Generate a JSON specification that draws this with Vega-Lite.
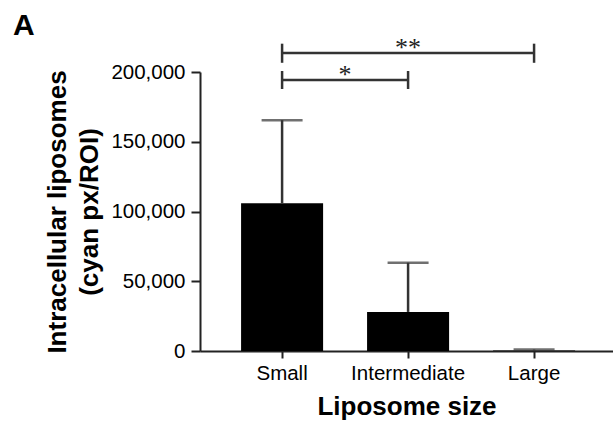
{
  "$schema": "https://vega.github.io/schema/vega-lite/v6.json",
  "width": 413,
  "height": 279,
  "autosize": {"type": "none"},
  "padding": {"left": 200, "top": 72, "right": 0, "bottom": 71},
  "background": "white",
  "config": {
    "view": {"stroke": null},
    "font": "Liberation Sans",
    "axisY": {"grid": false, "labelFontSize": 20.5, "labelColor": "black", "labelPadding": 6, "tickSize": 9, "tickWidth": 2, "tickColor": "#222", "domainWidth": 2, "domainColor": "#222", "titleFontSize": 26, "titleFontWeight": "bold", "titleColor": "black", "titleLineHeight": 32, "titlePadding": 8},
    "axisX": {"labelAngle": 0, "labelFontSize": 20.5, "labelColor": "black", "labelPadding": 5, "tickSize": 7, "tickWidth": 2, "tickColor": "#222", "domainWidth": 2, "domainColor": "#222", "titleFontSize": 26, "titleFontWeight": "bold", "titleColor": "black", "titlePadding": 10}
  },
  "title": {"text": "A", "anchor": "start", "frame": "group", "fontSize": 30, "fontWeight": "bold", "font": "Liberation Sans", "color": "black", "dx": -187, "baseline": "alphabetic", "offset": -30},
  "datasets": {
    "bars": [
      {"size": "Small", "mean": 106000, "upper": 165500},
      {"size": "Intermediate", "mean": 28000, "upper": 63300},
      {"size": "Large", "mean": 300, "upper": 1000}
    ],
    "brackets": [
      {"from": "Small", "to": "Intermediate", "level": 194300, "lo": 187800, "hi": 200700, "label": "*"},
      {"from": "Small", "to": "Large", "level": 213600, "lo": 206600, "hi": 220300, "label": "**"}
    ]
  },
  "layer": [
    {
      "data": {"name": "bars"},
      "mark": {"type": "bar", "color": "black"},
      "encoding": {
        "x": {"field": "size", "type": "nominal", "title": "Liposome size",
          "scale": {"domain": ["Small", "Intermediate", "Large"], "paddingInner": 0.349, "paddingOuter": 0.3135, "align": 0.52},
          "sort": null},
        "y": {"field": "mean", "type": "quantitative", "title": ["Intracellular liposomes", "(cyan px/ROI)"],
          "scale": {"domain": [0, 200000], "nice": false},
          "axis": {"tickCount": 4, "format": ",d"}}
      }
    },
    {
      "data": {"name": "bars"},
      "mark": {"type": "rule", "color": "#333", "strokeWidth": 2.5},
      "encoding": {
        "x": {"field": "size", "type": "nominal", "title": "Liposome size", "sort": null},
        "y": {"field": "mean", "type": "quantitative", "title": ["Intracellular liposomes", "(cyan px/ROI)"], "axis": {"tickCount": 4, "format": ",d"}},
        "y2": {"field": "upper"}
      }
    },
    {
      "data": {"name": "bars"},
      "mark": {"type": "tick", "color": "#333", "thickness": 2.5, "size": 41, "orient": "horizontal"},
      "encoding": {
        "x": {"field": "size", "type": "nominal", "title": "Liposome size", "sort": null},
        "y": {"field": "upper", "type": "quantitative", "title": ["Intracellular liposomes", "(cyan px/ROI)"], "axis": {"tickCount": 4, "format": ",d"}}
      }
    },
    {
      "data": {"name": "brackets"},
      "mark": {"type": "rule", "color": "#333", "strokeWidth": 2.5},
      "encoding": {
        "x": {"field": "from", "type": "nominal", "title": "Liposome size", "sort": null},
        "x2": {"field": "to"},
        "y": {"field": "level", "type": "quantitative", "title": ["Intracellular liposomes", "(cyan px/ROI)"], "axis": {"tickCount": 4, "format": ",d"}}
      }
    },
    {
      "data": {"name": "brackets"},
      "transform": [{"fold": ["from", "to"], "as": ["end", "cat"]}],
      "mark": {"type": "rule", "color": "#333", "strokeWidth": 2.5},
      "encoding": {
        "x": {"field": "cat", "type": "nominal", "title": "Liposome size", "sort": null},
        "y": {"field": "lo", "type": "quantitative", "title": ["Intracellular liposomes", "(cyan px/ROI)"], "axis": {"tickCount": 4, "format": ",d"}},
        "y2": {"field": "hi"}
      }
    },
    {
      "data": {"name": "brackets"},
      "transform": [{"filter": "datum.label === '**'"}],
      "mark": {"type": "text", "fontSize": 26, "font": "Liberation Serif", "color": "#222", "baseline": "alphabetic", "dy": 3},
      "encoding": {
        "x": {"field": "to", "type": "nominal", "title": "Liposome size", "sort": null, "bandPosition": -1.037},
        "y": {"field": "level", "type": "quantitative", "title": ["Intracellular liposomes", "(cyan px/ROI)"], "axis": {"tickCount": 4, "format": ",d"}},
        "text": {"field": "label"}
      }
    },
    {
      "data": {"name": "brackets"},
      "transform": [{"filter": "datum.label === '*'"}],
      "mark": {"type": "text", "fontSize": 26, "font": "Liberation Serif", "color": "#222", "baseline": "alphabetic", "dy": 3},
      "encoding": {
        "x": {"field": "to", "type": "nominal", "title": "Liposome size", "sort": null, "bandPosition": -0.268},
        "y": {"field": "level", "type": "quantitative", "title": ["Intracellular liposomes", "(cyan px/ROI)"], "axis": {"tickCount": 4, "format": ",d"}},
        "text": {"field": "label"}
      }
    }
  ]
}
